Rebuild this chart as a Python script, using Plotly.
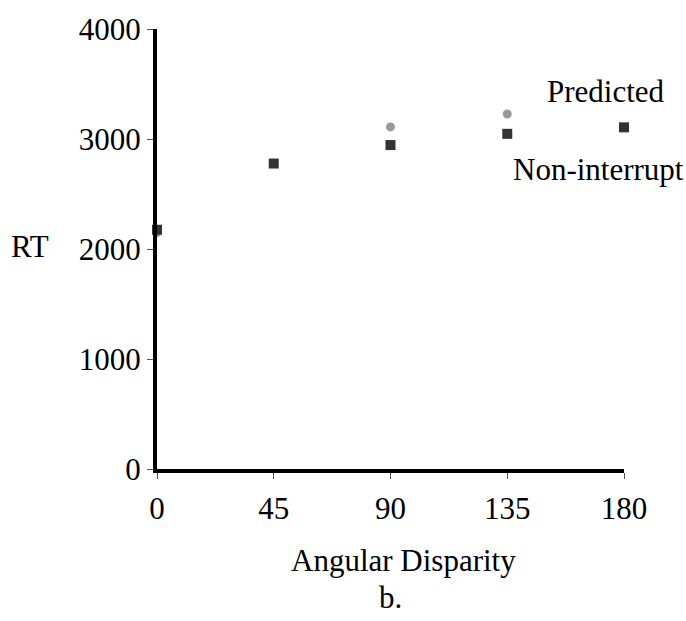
import plotly.graph_objects as go

angles = [0, 45, 90, 135, 180]
non_interrupt = [2175, 2777, 2945, 3047, 3106]
pred_angles = [0, 90, 135]
predicted = [2150, 3110, 3227]
x_ticks = [0, 45, 90, 135, 180]
y_ticks = [0, 1000, 2000, 3000, 4000]

W, H = 686, 621
L, R, T, B = 157, 62, 24, 152
pw, ph = W - L - R, H - T - B

def px(x):
    return (x - L) / pw

def py(y):
    return (H - B - y) / ph

FONT = "Liberation Serif, Times New Roman, serif"

fig = go.Figure()
fig.add_trace(go.Scatter(x=pred_angles, y=predicted, mode="markers", name="Predicted",
                         marker=dict(symbol="circle", size=9, color="#999999"),
                         cliponaxis=False, showlegend=False))
fig.add_trace(go.Scatter(x=angles, y=non_interrupt, mode="markers", name="Non-interrupt",
                         marker=dict(symbol="square", size=10, color="#333333"),
                         cliponaxis=False, showlegend=False))

fig.update_layout(
    width=W, height=H,
    margin=dict(l=L, r=R, t=T, b=B, pad=0),
    paper_bgcolor="white", plot_bgcolor="white",
    font=dict(family=FONT, size=31, color="black"),
    xaxis=dict(range=[0, 180], tickvals=x_ticks, ticktext=[str(v) for v in x_ticks],
               showgrid=False, zeroline=False, showline=True, linecolor="black", linewidth=4,
               ticks="outside", ticklen=6, tickcolor="#555555", tickwidth=1,
               ticklabelstandoff=3,
               tickfont=dict(family=FONT, size=31)),
    yaxis=dict(range=[0, 4000], tickvals=y_ticks, ticktext=[str(v) for v in y_ticks],
               showgrid=False, zeroline=False, showline=True, linecolor="black", linewidth=4,
               ticks="outside", ticklen=6, tickcolor="#555555", tickwidth=1,
               tickfont=dict(family=FONT, size=31)),
    annotations=[
        dict(text="Predicted", xref="paper", yref="paper", x=px(606), y=py(87),
             showarrow=False, xanchor="center", yanchor="middle"),
        dict(text="Non-interrupt", xref="paper", yref="paper", x=px(598), y=py(166),
             showarrow=False, xanchor="center", yanchor="middle"),
        dict(text="RT", xref="paper", yref="paper", x=px(30), y=py(244),
             showarrow=False, xanchor="center", yanchor="middle"),
        dict(text="Angular Disparity", xref="paper", yref="paper", x=px(403), y=py(562),
             showarrow=False, xanchor="center", yanchor="middle"),
        dict(text="b.", xref="paper", yref="paper", x=px(390), y=py(599),
             showarrow=False, xanchor="center", yanchor="middle"),
    ],
)

fig.write_html("out.html")
